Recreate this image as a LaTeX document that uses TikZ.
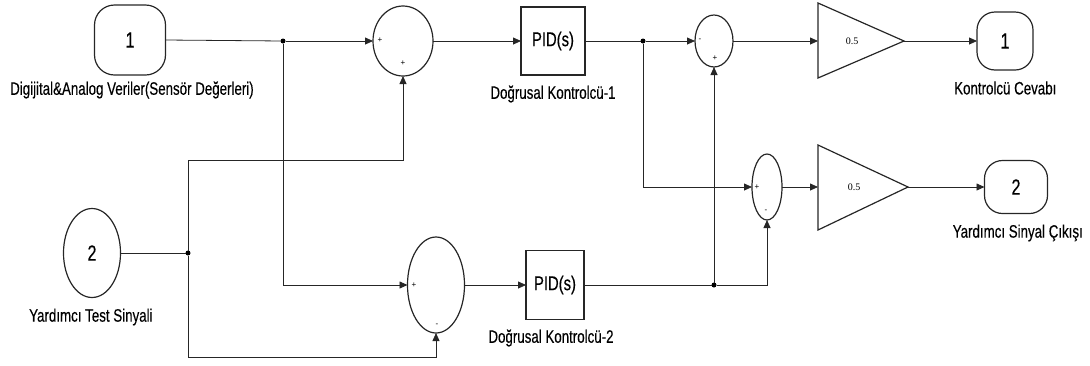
\documentclass[tikz,border=0pt]{standalone}
\usepackage{graphicx}
\usepackage{fontspec}
\setmainfont{Liberation Sans}
\newfontfamily\labfont[FakeBold=0.3]{Liberation Sans}
\newfontfamily\serfont{Liberation Serif}
\newcommand\cnd[1]{\scalebox{0.74}[1]{#1}}
\usetikzlibrary{arrows.meta,shapes.geometric}
\begin{document}
\begin{tikzpicture}[x=1pt,y=-1pt,
  port/.style={draw=black!85, line width=1.2pt, rounded corners=20pt, inner sep=0pt, outer sep=0pt,
    font=\labfont\fontsize{22}{22}\selectfont},
  portell/.style={draw=black!85, line width=1.2pt, ellipse, inner sep=0pt, outer sep=0pt,
    font=\labfont\fontsize{22}{22}\selectfont},
  sumst/.style={draw=black!85, ellipse, line width=1.2pt, inner sep=0pt, outer sep=0pt},
  pidbox/.style={draw=black!85, rectangle, line width=1.2pt, inner sep=0pt, outer sep=0pt,
    font=\labfont\fontsize{20}{20}\selectfont},
  gainst/.style={draw=black!85, line width=1.2pt, line join=miter},
  gaintxt/.style={font=\serfont\fontsize{10}{10}\selectfont, inner sep=0pt},
  lab/.style={font=\labfont\fontsize{18}{18}\selectfont, inner sep=0pt},
  sig/.style={font=\fontsize{8}{8}\selectfont, inner sep=0pt},
  wire/.style={draw=black!85, line width=0.8pt},
  arr/.style={wire, -{Triangle[length=8pt,width=7pt]}},
  jdot/.style={circle, fill=black, inner sep=0pt, minimum size=5pt, outer sep=0pt}
]
\useasboundingbox (0,0) rectangle (1090,365);

% ports
\node[port, minimum width=71pt, minimum height=70pt] (in1) at (130,40) {\cnd{1}};
\node[portell, minimum width=57pt, minimum height=89pt] (in2) at (92,253) {\cnd{2}};
\node[port, rounded corners=18pt, minimum width=56pt, minimum height=58pt] (out1) at (1005,41) {\cnd{1}};
\node[port, rounded corners=18pt, minimum width=63pt, minimum height=53pt] (out2) at (1016,187) {\cnd{2}};

% sums
\node[sumst, minimum width=60pt, minimum height=70pt] (s1) at (403,41) {};
\node[sumst, minimum width=57pt, minimum height=96pt] (s2) at (436,285) {};
\node[sumst, minimum width=38pt, minimum height=52pt] (s3) at (714,41) {};
\node[sumst, minimum width=30pt, minimum height=66pt] (s4) at (767,187) {};

% PID blocks
\node[pidbox, minimum width=64pt, minimum height=68pt] (pid1) at (553,41) {\cnd{PID(s)}};
\node[pidbox, minimum width=58pt, minimum height=69pt] (pid2) at (555,285) {\cnd{PID(s)}};

% gains
\draw[gainst] (818,3) -- (904,41) -- (818,78) -- cycle;
\draw[gainst] (818,145) -- (908,187) -- (818,230) -- cycle;
\coordinate (g1in) at (818,41);
\coordinate (g1tip) at (904,41);
\coordinate (g2in) at (818,187);
\coordinate (g2tip) at (908,187);
\node[gaintxt] (g1) at (852,41) {0.5};
\node[gaintxt] (g2) at (854,187) {0.5};

% labels
\node[lab, anchor=west] (l1) at (10,90) {\cnd{Digijital\&Analog Veriler(Sensör Değerleri)}};
\node[lab, anchor=west] (l2) at (29,317) {\cnd{Yardımcı Test Sinyali}};
\node[lab] (l3) at (553,94) {\cnd{Doğrusal Kontrolcü-1}};
\node[lab] (l4) at (551,338) {\cnd{Doğrusal Kontrolcü-2}};
\node[lab, anchor=west] (l5) at (954,88) {\cnd{Kontrolcü Cevabı}};
\node[lab, anchor=east] (l6) at (1083,233) {\cnd{Yardımcı Sinyal Çıkışı}};

% signs
\node[sig] (p1a) at (380,40) {+};
\node[sig] (p1b) at (403,63) {+};
\node[sig] (p2a) at (414,285) {+};
\node[sig] (p2b) at (437,325) {-};
\node[sig] (p3a) at (700,40) {-};
\node[sig] (p3b) at (715,58) {+};
\node[sig] (p4a) at (757,187) {+};
\node[sig] (p4b) at (766,211) {-};

% junctions
\node[jdot] (j1) at (283,41) {};
\node[jdot] (j2) at (188,253) {};
\node[jdot] (j3) at (643,41) {};
\node[jdot] (j4) at (714,285) {};
\coordinate (t1) at (188,160);
\coordinate (t2) at (188,357);

% connectors
\draw[wire] (in1.east) -- (j1);
\draw[arr] (j1) -- (s1.west);
\draw[arr] (s1.east) -- (pid1.west);
\draw[wire] (pid1.east) -- (j3);
\draw[arr] (j3) -- (s3.west);
\draw[arr] (s3.east) -- (g1in);
\draw[arr] (g1tip) -- (out1.west);
\draw[arr] (j3) |- (s4.west);
\draw[arr] (s4.east) -- (g2in);
\draw[arr] (g2tip) -- (out2.west);
\draw[wire] (in2.east) -- (j2);
\draw[arr] (j2) -- (t1) -| (s1.south);
\draw[arr] (j2) -- (t2) -| (s2.south);
\draw[arr] (j1) |- (s2.west);
\draw[arr] (s2.east) -- (pid2.west);
\draw[wire] (pid2.east) -- (j4);
\draw[arr] (j4) -- (s3.south);
\draw[arr] (j4) -| (s4.south);
\end{tikzpicture}
\end{document}
